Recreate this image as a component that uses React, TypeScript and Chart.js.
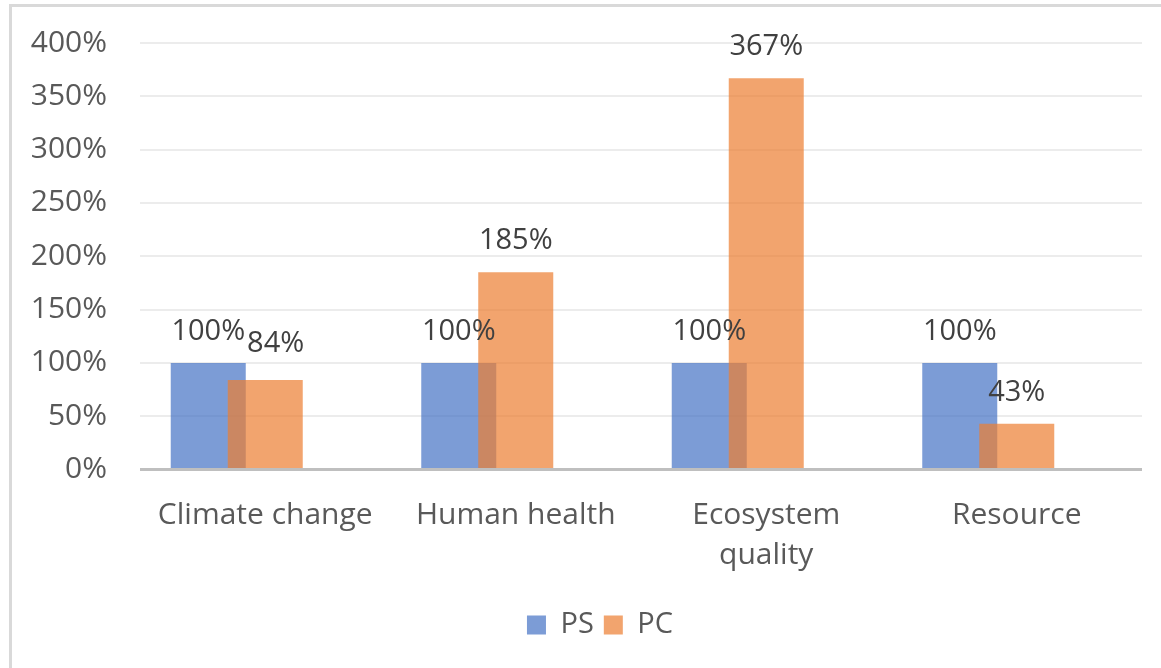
import React, { useEffect, useRef } from "react";
import { Chart, registerables } from "chart.js";

Chart.register(...registerables);

const categories: (string | string[])[] = ["Climate change", "Human health", ["Ecosystem", "quality"], "Resource"];
const psValues = [100, 100, 100, 100];
const pcValues = [84, 185, 367, 43];
const yMax = 400;
const yStep = 50;

const FONT = "'Open Sans', 'Noto Sans', sans-serif";
const TICK_SIZE = 30;
const LABEL_SIZE = 29;

// PS (index 0) sits left of PC (index 1) but must be painted beneath it.
const drawOrderPlugin = {
  id: "drawOrder",
  beforeDatasetDraw(chart: any, args: any) {
    if (args.index === 0) return false;
    if (args.index === 1) {
      const meta = chart.getDatasetMeta(0);
      if (meta && !meta.hidden) meta.controller.draw();
    }
    return true;
  },
};

// Centre the legend under the region the original chart used.
const legendShiftPlugin = {
  id: "legendShift",
  afterLayout(chart: any) {
    const lg = chart.legend;
    if (lg) lg.left += 58;
  },
};

const dataLabelPlugin = {
  id: "dataLabels",
  afterDatasetsDraw(chart: any) {
    const ctx = chart.ctx;
    ctx.save();
    ctx.font = `${LABEL_SIZE}px ${FONT}`;
    ctx.fillStyle = "#404040";
    ctx.textAlign = "center";
    ctx.textBaseline = "alphabetic";
    const psMeta = chart.getDatasetMeta(0);
    const pcMeta = chart.getDatasetMeta(1);
    const gap = 23;
    const h = 21;
    for (let j = 0; j < psValues.length; j++) {
      const ps = psMeta.data[j];
      const pc = pcMeta.data[j];
      const psText = psValues[j] + "%";
      const pcText = pcValues[j] + "%";
      const psW = ctx.measureText(psText).width;
      const pcW = ctx.measureText(pcText).width;
      const psX = ps.x;
      const psY = ps.y - gap;
      let pcX = pc.x;
      let pcY = pc.y - gap;
      const psRight = psX + psW / 2;
      const pcLeft = pcX - pcW / 2;
      const vOverlap = Math.abs(pcY - psY) < h;
      if (vOverlap && pcLeft < psRight + 2) {
        pcX += psRight + 2 - pcLeft;
        pcY -= 5;
      }
      ctx.fillText(psText, psX, psY);
      ctx.fillText(pcText, pcX, pcY);
    }
    ctx.restore();
  },
};

export default function App() {
  const ref = useRef<HTMLCanvasElement>(null);
  useEffect(() => {
    if (!ref.current) return;
    const cp = 0.6826;
    const bp = 1.316;
    const chart = new Chart(ref.current, {
      type: "bar",
      data: {
        labels: categories as any,
        datasets: [
          {
            label: "PS",
            data: psValues,
            backgroundColor: "rgba(68,114,196,0.7)",
            borderWidth: 0,
            categoryPercentage: cp,
            barPercentage: bp,
          },
          {
            label: "PC",
            data: pcValues,
            backgroundColor: "rgba(237,125,49,0.7)",
            borderWidth: 0,
            categoryPercentage: cp,
            barPercentage: bp,
          },
          {
            label: "",
            data: [null, null, null, null],
            backgroundColor: "rgba(0,0,0,0)",
            borderWidth: 0,
            categoryPercentage: cp,
            barPercentage: bp,
          },
        ] as any,
      },
      options: {
        animation: false,
        responsive: false,
        layout: { autoPadding: false, padding: { left: 0, right: 19, top: 43, bottom: 18.5 } },
        plugins: {
          tooltip: { enabled: false },
          legend: {
            position: "bottom",
            labels: {
              font: { family: FONT, size: LABEL_SIZE },
              color: "#595959",
              boxWidth: 19,
              boxHeight: 19,
              padding: 10,
              filter: (item: any) => item.datasetIndex !== 2,
            },
          },
        },
        scales: {
          x: {
            type: "category",
            grid: { display: false },
            border: { display: false },
            ticks: {
              font: { family: FONT, size: TICK_SIZE, lineHeight: 40 / 30 },
              color: "#595959",
              maxRotation: 0,
              autoSkip: false,
              padding: 18,
            },
            afterFit: (s: any) => {
              s.height = 131;
              s.paddingLeft = 0;
              s.paddingRight = 0;
            },
          },
          y: {
            min: 0,
            max: yMax,
            ticks: {
              stepSize: yStep,
              font: { family: FONT, size: TICK_SIZE },
              color: "#595959",
              padding: 33,
              callback: (v: any) => v + "%",
            },
            grid: {
              drawTicks: false,
              color: (c: any) => (c.tick && c.tick.value === 0 ? "#BFBFBF" : "#ECECEC"),
              lineWidth: (c: any) => (c.tick && c.tick.value === 0 ? 3 : 2),
            },
            border: { display: false },
            afterFit: (s: any) => {
              s.width = 140;
              s.paddingTop = 0;
              s.paddingBottom = 0;
            },
          },
        },
      } as any,
      plugins: [drawOrderPlugin, legendShiftPlugin, dataLabelPlugin],
    });
    return () => chart.destroy();
  }, []);
  return (
    <div
      style={{
        position: "fixed",
        left: 0,
        top: 0,
        width: 1161,
        height: 668,
        background: "#fff",
        overflow: "hidden",
      }}
    >
      <canvas ref={ref} width={1161} height={668} style={{ position: "absolute", left: 0, top: 0 }} />
      <div
        style={{
          position: "absolute",
          left: 9,
          top: 4,
          width: 1300,
          height: 800,
          border: "3px solid #D9D9D9",
          pointerEvents: "none",
        }}
      />
    </div>
  );
}
